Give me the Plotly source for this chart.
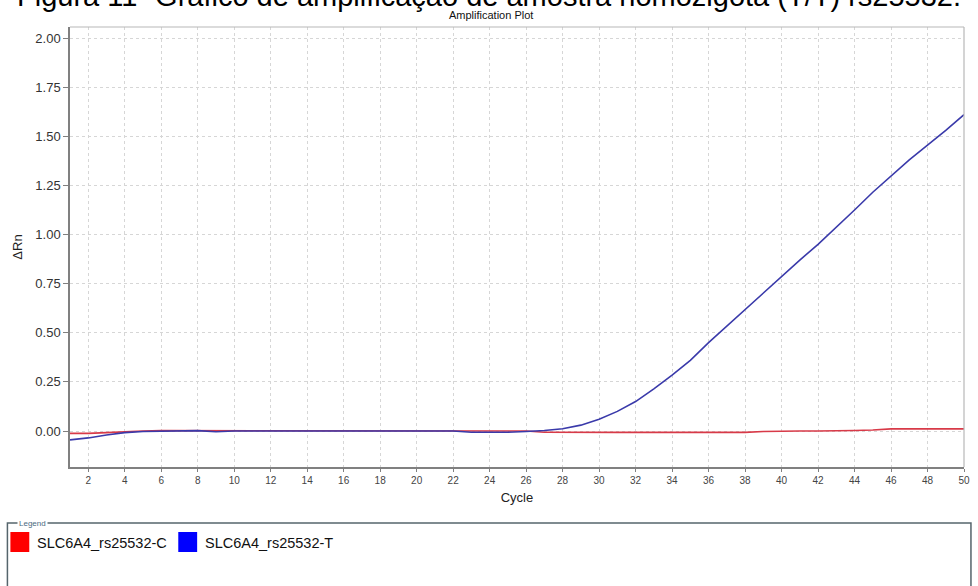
import plotly.graph_objects as go

# Amplification data: cycle number and normalised reporter signal (ΔRn)
cycles = list(range(1, 51))

series_names = ["SLC6A4_rs25532-C", "SLC6A4_rs25532-T"]
line_colors = ["#d83a48", "#3a3aaa"]
legend_colors = ["#ff0000", "#0000ff"]

delta_rn_c = [
    -0.012, -0.012, -0.008, -0.003, 0.000, 0.002, 0.002, 0.002, 0.002, 0.002,
    0.002, 0.002, 0.002, 0.002, 0.002, 0.002, 0.002, 0.002, 0.002, 0.002,
    0.002, 0.002, 0.002, 0.002, 0.001, 0.000, -0.006, -0.007, -0.007, -0.007,
    -0.007, -0.007, -0.007, -0.007, -0.007, -0.007, -0.007, -0.007, -0.002, 0.000,
    0.000, 0.000, 0.000, 0.003, 0.005, 0.011, 0.011, 0.011, 0.011, 0.011,
]
delta_rn_t = [
    -0.045, -0.035, -0.020, -0.008, -0.002, 0.000, 0.002, 0.002, -0.004, 0.000,
    0.000, 0.000, 0.000, 0.000, 0.000, 0.000, -0.003, 0.000, 0.000, 0.000,
    0.000, 0.000, -0.006, -0.007, -0.006, -0.002, 0.003, 0.012, 0.030, 0.060,
    0.100, 0.150, 0.215, 0.285, 0.360, 0.450, 0.535, 0.615, 0.700, 0.785,
    0.870, 0.950, 1.035, 1.125, 1.215, 1.300, 1.380, 1.455, 1.530, 1.610,
]
series_values = [delta_rn_c, delta_rn_t]

y_tick_vals = [0.00, 0.25, 0.50, 0.75, 1.00, 1.25, 1.50, 1.75, 2.00]
y_tick_text = ["0.00", "0.25", "0.50", "0.75", "1.00", "1.25", "1.50", "1.75", "2.00"]

fig_caption = "Figura 11- Gráfico de amplificação de amostra homozigota (T/T) rs25532."
plot_title = "Amplification Plot"

W, H = 978, 586
L, R, T, B = 70, 8, 27, 119
PW, PH = W - L - R, H - T - B


def px(x):
    return (x - L) / PW


def py(y):
    return (H - B - y) / PH


fig = go.Figure()
for name, vals, col in zip(series_names, series_values, line_colors):
    fig.add_trace(go.Scatter(
        x=cycles, y=vals, mode="lines", name=name,
        line=dict(color=col, width=1.6), showlegend=False,
    ))

grid = dict(showgrid=True, gridcolor="#d6d6d6", griddash="dot", gridwidth=1)

fig.update_xaxes(
    range=[1, 50], tickmode="linear", tick0=2, dtick=2,
    showline=True, linecolor="#808080", linewidth=1.5,
    ticks="outside", ticklen=3, tickcolor="#808080",
    tickfont=dict(family="Arial", size=10, color="#444444"),
    title=dict(text="Cycle", font=dict(family="Arial", size=13, color="#222222"), standoff=8),
    zeroline=False, **grid,
)
fig.update_yaxes(
    range=[-0.183, 2.056], tickmode="array", tickvals=y_tick_vals, ticktext=y_tick_text,
    showline=True, linecolor="#808080", linewidth=1.5,
    ticks="outside", ticklen=5, tickcolor="#808080",
    tickfont=dict(family="Arial", size=13, color="#333333"),
    title=dict(text="ΔRn", font=dict(family="Arial", size=13, color="#222222"), standoff=10),
    zeroline=False, **grid,
)

shapes = [
    # top and right frame of the plot area
    dict(type="line", xref="paper", yref="paper", x0=0, x1=1, y0=1, y1=1,
         line=dict(color="#b8b8b8", width=1.2)),
    dict(type="line", xref="paper", yref="paper", x0=1, x1=1, y0=0, y1=1,
         line=dict(color="#b8b8b8", width=1.2)),
    # legend panel frame
    dict(type="rect", xref="paper", yref="paper",
         x0=px(7), x1=px(977), y0=py(600), y1=py(523),
         line=dict(color="#55656c", width=1.5), fillcolor="rgba(0,0,0,0)"),
]

annotations = [
    dict(text=fig_caption, xref="paper", yref="paper", x=px(492), y=py(-4),
         xanchor="center", yanchor="middle", showarrow=False,
         font=dict(family="Arial", size=29, color="#000000")),
    dict(text=plot_title, xref="paper", yref="paper", x=px(494), y=py(15),
         xanchor="center", yanchor="middle", showarrow=False,
         font=dict(family="Arial", size=11, color="#111111")),
    dict(text="Legend", xref="paper", yref="paper", x=px(17), y=py(523),
         xanchor="left", yanchor="middle", showarrow=False, bgcolor="#ffffff",
         font=dict(family="Arial", size=8, color="#4a6a80"), borderpad=1),
]

# legend entries: coloured square followed by the series name
entry_x = [10, 179]
for name, col, x0 in zip(series_names, legend_colors, entry_x):
    shapes.append(dict(type="rect", xref="paper", yref="paper",
                       x0=px(x0), x1=px(x0 + 19), y0=py(552), y1=py(532),
                       line=dict(width=0), fillcolor=col))
    annotations.append(dict(text=name, xref="paper", yref="paper",
                            x=px(x0 + 25), y=py(543), xanchor="left", yanchor="middle",
                            showarrow=False,
                            font=dict(family="Arial", size=14.5, color="#111111")))

fig.update_layout(
    width=W, height=H,
    margin=dict(l=L, r=R, t=T, b=B, pad=0),
    paper_bgcolor="#ffffff", plot_bgcolor="#ffffff",
    shapes=shapes, annotations=annotations,
    showlegend=False,
)

fig.write_html("out.html")
